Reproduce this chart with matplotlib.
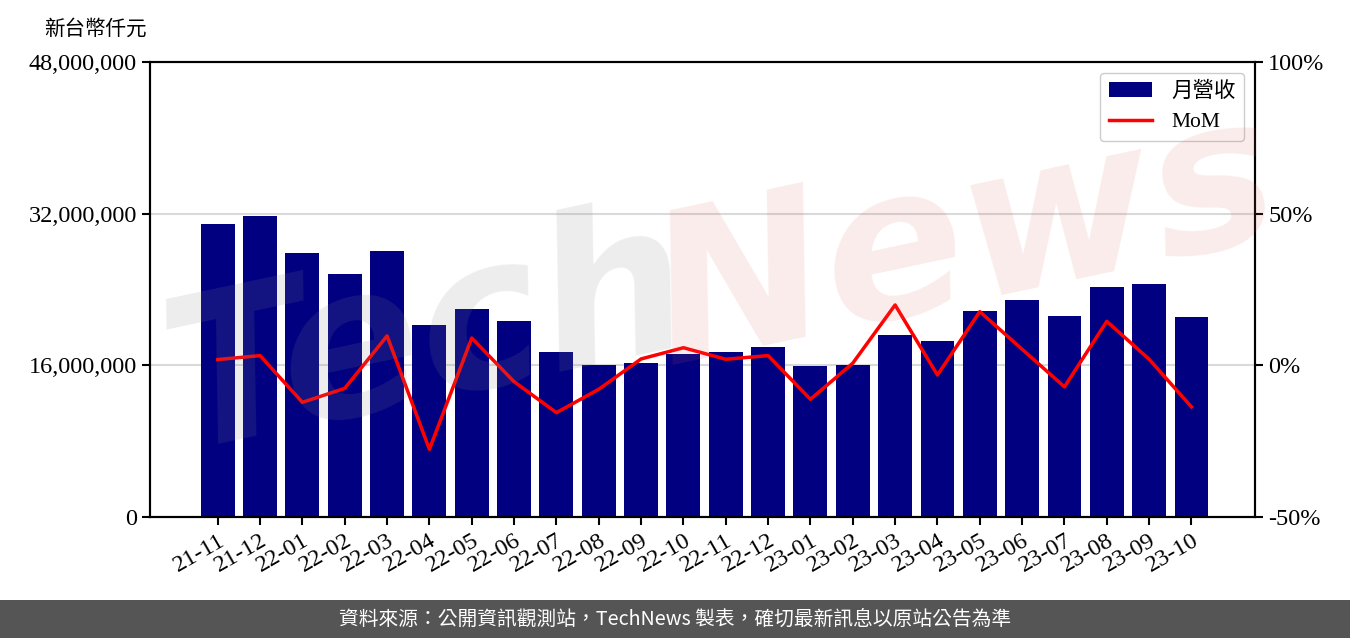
import matplotlib
matplotlib.use("Agg")
import matplotlib.pyplot as plt
from matplotlib.patches import Rectangle
from matplotlib.ticker import FuncFormatter, MultipleLocator

months = ["21-11", "21-12", "22-01", "22-02", "22-03", "22-04", "22-05", "22-06",
          "22-07", "22-08", "22-09", "22-10", "22-11", "22-12", "23-01", "23-02",
          "23-03", "23-04", "23-05", "23-06", "23-07", "23-08", "23-09", "23-10"]
# monthly revenue, thousand NTD
revenue = [30900000, 31750000, 27840000, 25630000, 28060000, 20250000, 21940000, 20670000,
           17400000, 16030000, 16240000, 17190000, 17400000, 17930000, 15930000, 16030000,
           19200000, 18560000, 21730000, 22890000, 21200000, 24260000, 24580000, 21090000]
# month over month change, %
mom = [1.9, 3.2, -12.2, -7.6, 9.7, -27.7, 9.0, -5.4, -15.6, -7.9, 2.1, 5.8,
       2.0, 3.2, -11.2, 0.7, 19.9, -3.2, 17.7, 5.3, -7.1, 14.5, 2.0, -13.7]

SERIF = ["Liberation Serif", "Noto Sans CJK TC"]
plt.rcParams["font.family"] = SERIF

fig = plt.figure(figsize=(13.5, 6.38), dpi=100)
ax = fig.add_axes([0.1111, 0.1897, 0.8185, 0.7131])
ax2 = ax.twinx()

x = list(range(len(months)))
ax.bar(x, revenue, width=0.8, color="#000080", label="月營收", zorder=2)
line, = ax2.plot(x, mom, color="red", lw=2.5, label="MoM", zorder=3)

ax.set_xlim(-1.6, 24.5)
ax.set_ylim(0, 48000000)
ax.yaxis.set_major_locator(MultipleLocator(16000000))
ax.yaxis.set_major_formatter(FuncFormatter(lambda v, p: f"{int(v):,}"))
ax.grid(axis="y", color="#d9d9d9", lw=1.5, zorder=0)
ax.set_axisbelow(True)

ax2.set_ylim(-50, 100)
ax2.yaxis.set_major_locator(MultipleLocator(50))
ax2.yaxis.set_major_formatter(FuncFormatter(lambda v, p: f"{int(v)}%"))

ax.set_xticks(x)
ax.set_xticklabels(months, rotation=30, ha="right", rotation_mode="anchor")

for a in (ax, ax2):
    for s in a.spines.values():
        s.set_linewidth(1.5)
    a.tick_params(labelsize=17.5, width=1.5, length=6)

# legend with both series
handles = [ax.patches[0], line]
ax2.legend(handles, ["月營收", "MoM"], loc="upper right", fontsize=15.5,
           framealpha=1, edgecolor="#cccccc", handlelength=2.0, borderpad=0.4,
           handletextpad=0.9)

fig.text(0.033, 0.955, "新台幣仟元", fontsize=14.8, family=["Noto Sans CJK TC"],
         va="center", ha="left")

# faint watermark
fig.text(0.11, 0.47, "Tech", fontsize=150, color="#888888", alpha=0.15,
         rotation=12, fontweight="bold", style="italic", family=["DejaVu Sans"],
         va="center", ha="left", zorder=0)
fig.text(0.47, 0.62, "News", fontsize=150, color="#e06060", alpha=0.12,
         rotation=12, fontweight="bold", style="italic", family=["DejaVu Sans"],
         va="center", ha="left", zorder=0)

# footer band
fig.patches.append(Rectangle((0, 0), 1, 38 / 638, transform=fig.transFigure,
                             facecolor="#555555", edgecolor="none"))
fig.text(0.5, 19 / 638, "資料來源：公開資訊觀測站，TechNews 製表，確切最新訊息以原站公告為準",
         color="white", fontsize=14.2, family=["Noto Sans CJK TC"], ha="center", va="center")

fig.savefig("out.png", dpi=100)
